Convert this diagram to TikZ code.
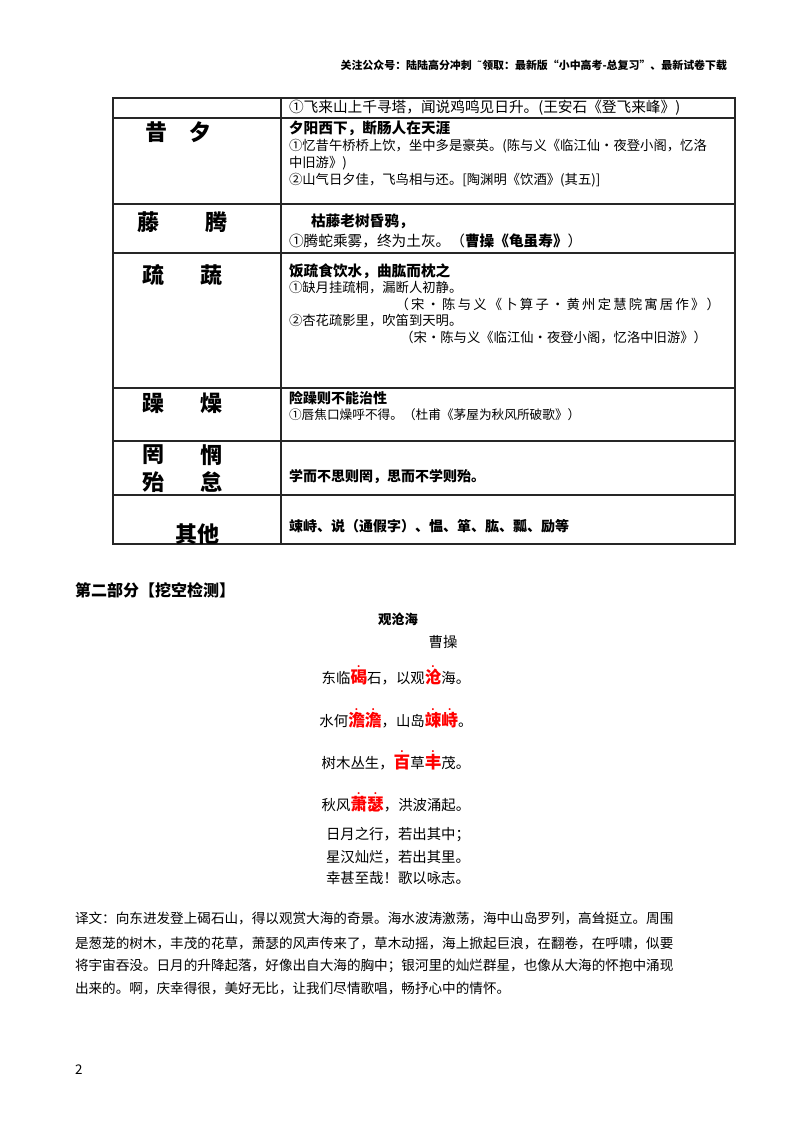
\documentclass[tikz,border=0pt]{standalone}
\usepackage{fontspec}
\setmainfont{Noto Sans CJK SC}
\newfontfamily\dv{DejaVu Sans}
\newcommand\hz[1]{\textcolor{red}{\fontsize{12.5}{14}\selectfont\ooalign{\bfseries #1\cr\hidewidth\raisebox{0.95em}{\bfseries\fontsize{7}{7}\selectfont .}\hidewidth\cr}}}
\begin{document}
\begin{tikzpicture}[x=0.75pt,y=-0.75pt,
  every node/.style={inner sep=0pt,outer sep=0pt},
  tl/.style={anchor=west,font=\fontsize{10}{12}\selectfont},
  tb/.style={anchor=west,font=\fontsize{10.5}{12}\selectfont\bfseries},
  big/.style={font=\fontsize{16.5}{18}\selectfont\bfseries},
  pl/.style={font=\fontsize{10.8}{12}\selectfont},
  tr/.style={anchor=west,font=\fontsize{10.2}{12}\selectfont},
  rule/.style={line width=0.9pt,black!85}]
\useasboundingbox (0,0) rectangle (800,1132);
\node[anchor=east,font=\fontsize{8.2}{10}\selectfont\bfseries] (hdr) at (727,65) {关注公众号：陆陆高分冲刺\ \ {\dv ˜}领取：最新版“小中高考-总复习”、最新试卷下载};
% table
\draw[rule] (113,98) rectangle (735,544);
\draw[rule] (281,98) -- (281,544);
\foreach \y in {118,204,253,388,441,495} \draw[rule] (113,\y) -- (735,\y);
\node[tl,font=\fontsize{11}{12}\selectfont] (r1) at (289,108) {①飞来山上千寻塔，闻说鸡鸣见日升。(王安石《登飞来峰》)};
\node[big] (a1) at (178,132) {昔\quad 夕};
\node[tb,font=\fontsize{11}{12}\selectfont\bfseries] (b1) at (289,128) {夕阳西下，断肠人在天涯};
\node[tl] (b2) at (289,146) {①忆昔午桥桥上饮，坐中多是豪英。(陈与义《临江仙·夜登小阁，忆洛};
\node[tl] (b3) at (289,163) {中旧游》)};
\node[tl] (b4) at (289,180) {②山气日夕佳，飞鸟相与还。[陶渊明《饮酒》(其五)]};
\node[big] (a2) at (148,222) {藤};
\node[big] (a3) at (216,222) {腾};
\node[tb,font=\fontsize{11}{12}\selectfont\bfseries] (c1) at (311,221) {枯藤老树昏鸦，};
\node[tl,font=\fontsize{11}{12}\selectfont] (c2) at (289,241) {①腾蛇乘雾，终为土灰。（\textbf{曹操《龟虽寿》}）};
\node[big] (a4) at (153,275) {疏};
\node[big] (a5) at (211,275) {蔬};
\node[tb,font=\fontsize{11}{12}\selectfont\bfseries] (d1) at (289,271) {饭疏食饮水，曲肱而枕之};
\node[tl] (d2) at (289,288) {①缺月挂疏桐，漏断人初静。};
\node[tl,anchor=east] (d3) at (720,304) {（\,宋\,·\,陈\,与\,义\,《\,卜\,算\,子\,·\,黄\,州\,定\,慧\,院\,寓\,居\,作\,》\,）};
\node[tl] (d4) at (289,321) {②杏花疏影里，吹笛到天明。};
\node[tl,anchor=east] (d5) at (707,338) {（宋·陈与义《临江仙·夜登小阁，忆洛中旧游》）};
\node[big] (a6) at (153,403) {躁};
\node[big] (a7) at (211,403) {燥};
\node[tb] (e1) at (289,398) {险躁则不能治性};
\node[tl,font=\fontsize{9.5}{11}\selectfont] (e2) at (289,415) {①唇焦口燥呼不得。（杜甫《茅屋为秋风所破歌》）};
\node[big] (a8) at (153,455) {罔};
\node[big] (a9) at (211,455) {惘};
\node[big] (a10) at (153,482) {殆};
\node[big] (a11) at (211,482) {怠};
\node[tb] (f1) at (289,477) {学而不思则罔，思而不学则殆。};
\node[big] (a12) at (197,534) {其他};
\node[tb] (g1) at (289,526) {竦峙、说（通假字）、愠、箪、肱、瓢、励等};
% part 2
\node[anchor=west,font=\fontsize{12}{14}\selectfont\bfseries] (sec) at (75,590) {第二部分【挖空检测】};
\node[font=\fontsize{10}{12}\selectfont\bfseries] (tit) at (398,619) {观沧海};
\node[pl] (au) at (443,642) {曹操};
\node[pl] (p1) at (396,677) {东临\hz{碣}石，以观\hz{沧}海。};
\node[pl] (p2) at (396,720) {水何\hz{澹}\hz{澹}，山岛\hz{竦}\hz{峙}。};
\node[pl] (p3) at (396,762) {树木丛生，\hz{百}草\hz{丰}茂。};
\node[pl] (p4) at (396,804) {秋风\hz{萧}\hz{瑟}，洪波涌起。};
\node[pl] (p5) at (398,835) {日月之行，若出其中；};
\node[pl] (p6) at (398,857) {星汉灿烂，若出其里。};
\node[pl] (p7) at (398,878) {幸甚至哉！歌以咏志。};
\node[tr] (t1) at (75,918) {译文：向东进发登上碣石山，得以观赏大海的奇景。海水波涛激荡，海中山岛罗列，高耸挺立。周围};
\node[tr] (t2) at (75,943) {是葱茏的树木，丰茂的花草，萧瑟的风声传来了，草木动摇，海上掀起巨浪，在翻卷，在呼啸，似要};
\node[tr] (t3) at (75,966) {将宇宙吞没。日月的升降起落，好像出自大海的胸中；银河里的灿烂群星，也像从大海的怀抱中涌现};
\node[tr] (t4) at (75,988) {出来的。啊，庆幸得很，美好无比，让我们尽情歌唱，畅抒心中的情怀。};
\node[anchor=west,font=\fontsize{10}{12}\selectfont] (pg) at (75,1070) {2};
\end{tikzpicture}
\end{document}
